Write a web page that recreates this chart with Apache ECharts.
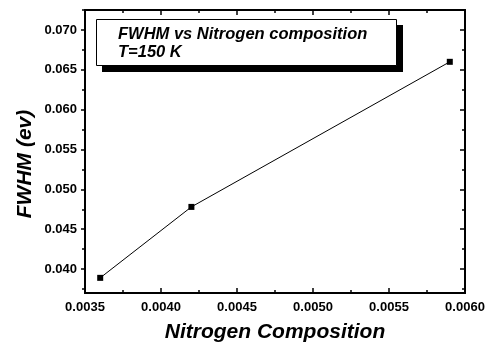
<!DOCTYPE html>
<html>
<head>
<meta charset="utf-8">
<script src="https://cdn.jsdelivr.net/npm/echarts@6/dist/echarts.min.js"></script>
<style>
  html, body { margin: 0; padding: 0; background: #fff; }
  #main { width: 488px; height: 344px; }
</style>
</head>
<body>
<div id="main"></div>
<script>
// data
var nitrogen = [0.0036, 0.0042, 0.0059];
var fwhm = [0.0389, 0.0478, 0.0660];

// tick values
var yMajor = [0.040, 0.045, 0.050, 0.055, 0.060, 0.065, 0.070];
var yMinor = [0.0375, 0.0425, 0.0475, 0.0525, 0.0575, 0.0625, 0.0675, 0.0725];
var xMin = 0.0035, xMax = 0.0060, xStep = 0.0005;
var yMin = 0.037, yMax = 0.0725;

var fontFam = 'Liberation Sans, Arial, sans-serif';

var chart = echarts.init(document.getElementById('main'));

function yAx(pos, vals, len, labels) {
  return {
    type: 'value', position: pos, min: yMin, max: yMax,
    axisLine: { show: true, lineStyle: { color: '#000', width: 2 } },
    axisTick: { show: true, customValues: vals, inside: pos === 'right', length: len,
      lineStyle: { color: '#000', width: 1.5 } },
    axisLabel: labels ? {
      show: true, customValues: vals, margin: 8,
      color: '#000', fontSize: 13, fontWeight: 'bold', fontFamily: fontFam,
      formatter: function (v) { return v.toFixed(3); }
    } : { show: false },
    splitLine: { show: false }
  };
}

function xAx(pos, labels) {
  return {
    type: 'value', position: pos, min: xMin, max: xMax, interval: xStep,
    axisLine: { show: true, lineStyle: { color: '#000', width: 2 } },
    axisTick: { show: true, inside: true, length: 5, lineStyle: { color: '#000', width: 1.5 } },
    minorTick: { show: true, splitNumber: 2, length: 3, lineStyle: { color: '#000', width: 1.5 } },
    axisLabel: labels ? {
      show: true, margin: 8,
      color: '#000', fontSize: 13, fontWeight: 'bold', fontFamily: fontFam,
      formatter: function (v) { return v.toFixed(4); }
    } : { show: false },
    splitLine: { show: false },
    name: labels ? 'Nitrogen Composition' : '',
    nameLocation: 'middle', nameGap: 29,
    nameTextStyle: { color: '#000', fontSize: 21, fontWeight: 'bold', fontStyle: 'italic', fontFamily: fontFam }
  };
}

var option = {
  backgroundColor: '#fff',
  animation: false,
  grid: { left: 85, right: 23, top: 10, bottom: 51, containLabel: false, outerBoundsMode: 'none' },
  xAxis: [xAx('bottom', true), xAx('top', false)],
  yAxis: [
    yAx('left', yMajor, 4, true),
    yAx('left', yMinor, 3, false),
    yAx('right', yMajor, 5, false),
    yAx('right', yMinor, 3, false)
  ],
  series: [{
    type: 'line',
    xAxisIndex: 0, yAxisIndex: 0,
    data: nitrogen.map(function (x, i) { return [x, fwhm[i]]; }),
    symbol: 'rect', symbolSize: 6,
    lineStyle: { color: '#000', width: 1 },
    itemStyle: { color: '#000' }
  }],
  graphic: [
    { type: 'rect', shape: { x: 102, y: 25, width: 301, height: 47 }, style: { fill: '#000' } },
    { type: 'rect', shape: { x: 96.5, y: 19.5, width: 300, height: 46 }, style: { fill: '#fff', stroke: '#000', lineWidth: 1 } },
    { type: 'text', x: 118, y: 26, style: { text: 'FWHM vs Nitrogen composition\nT=150 K', fill: '#000',
      font: 'italic bold 16.5px ' + fontFam, lineHeight: 17.5 } },
    { type: 'text', x: 25, y: 164, rotation: Math.PI / 2,
      style: { text: 'FWHM (ev)', fill: '#000', font: 'italic bold 21px ' + fontFam,
        align: 'center', verticalAlign: 'middle' } }
  ]
};

chart.setOption(option);
</script>
</body>
</html>
